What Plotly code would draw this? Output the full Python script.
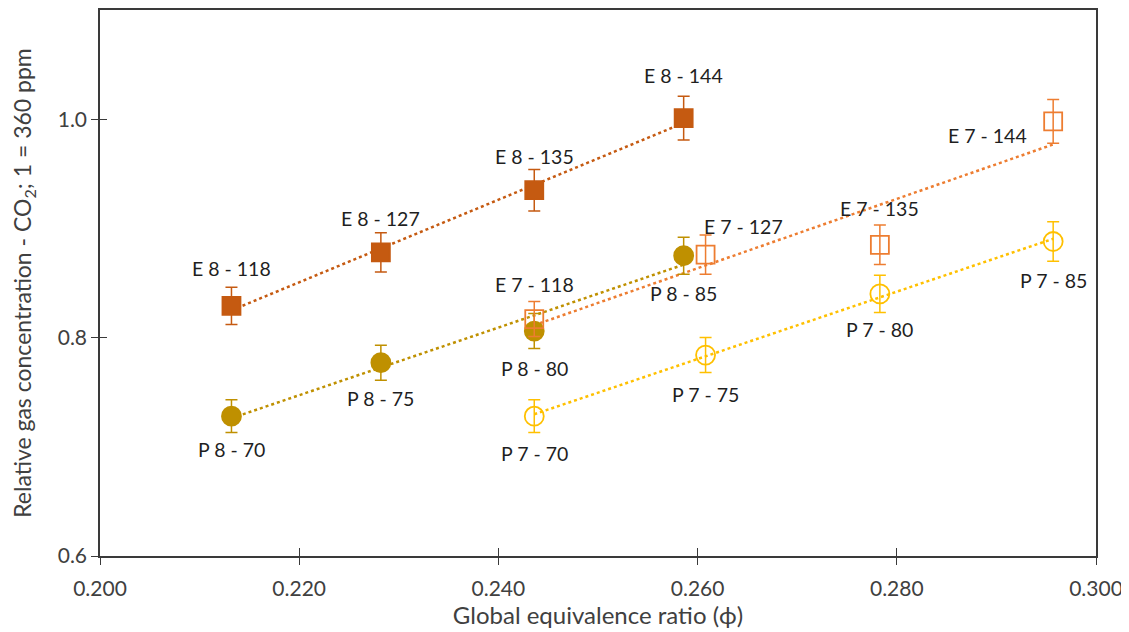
import numpy as np
import plotly.graph_objects as go

# ---- data ----
x_phi8 = [0.2132, 0.2282, 0.2436, 0.2586]
x_phi7 = [0.2436, 0.2608, 0.2783, 0.2957]

e8_y = [0.829, 0.878, 0.935, 1.001]
e8_err = [0.017, 0.018, 0.019, 0.020]
e8_labels = ["E 8 - 118", "E 8 - 127", "E 8 - 135", "E 8 - 144"]

p8_y = [0.728, 0.777, 0.806, 0.875]
p8_err = [0.015, 0.016, 0.016, 0.017]
p8_labels = ["P 8 - 70", "P 8 - 75", "P 8 - 80", "P 8 - 85"]

e7_y = [0.817, 0.876, 0.885, 0.998]
e7_err = [0.016, 0.018, 0.018, 0.020]
e7_labels = ["E 7 - 118", "E 7 - 127", "E 7 - 135", "E 7 - 144"]

p7_y = [0.728, 0.784, 0.840, 0.888]
p7_err = [0.015, 0.016, 0.017, 0.018]
p7_labels = ["P 7 - 70", "P 7 - 75", "P 7 - 80", "P 7 - 85"]

# label pixel offsets (dx, dy) relative to points (dy positive = down)
e8_off = [(0, -37), (0, -34), (0, -34), (0, -43)]
p8_off = [(0, 33), (0, 36), (0, 37), (0, 38)]
e7_off = [(0, -35), (38, -28), (0, -36), (-66, 14)]
p7_off = [(0, 37), (0, 39), (0, 36), (0, 39)]

C_E8 = "#C55A11"
C_P8 = "#BF9000"
C_E7 = "#ED7D31"
C_P7 = "#FFC000"

FONT = "Lato"
TXT = "#1f1f1f"
AX = "#404040"
LINE = "#3a3a3a"

series = [
    (x_phi8, e8_y, e8_err, e8_labels, e8_off, C_E8, "square"),
    (x_phi8, p8_y, p8_err, p8_labels, p8_off, C_P8, "circle"),
    (x_phi7, e7_y, e7_err, e7_labels, e7_off, C_E7, "square-open"),
    (x_phi7, p7_y, p7_err, p7_labels, p7_off, C_P7, "circle-open"),
]

fig = go.Figure()

# trendlines (linear fits)
for xs, ys, err, labs, offs, col, sym in series:
    xa = np.array(xs)
    k, b = np.polyfit(xa, np.array(ys), 1)
    xl = np.array([xa.min(), xa.max()])
    fig.add_trace(go.Scatter(x=xl, y=k * xl + b, mode="lines",
                             line=dict(color=col, width=2.5, dash="dot"),
                             showlegend=False, hoverinfo="skip"))

for xs, ys, err, labs, offs, col, sym in series:
    fig.add_trace(go.Scatter(
        x=xs, y=ys, mode="markers",
        marker=dict(symbol=sym, size=18 if "square" in sym else 19, color=col,
                    line=dict(color=col, width=1.8)),
        error_y=dict(type="data", array=err, color=col, thickness=1.5, width=6),
        showlegend=False))
    for xv, yv, lab, (dx, dy) in zip(xs, ys, labs, offs):
        fig.add_annotation(x=xv, y=yv, text=lab, showarrow=False,
                           xshift=dx, yshift=-dy,
                           font=dict(family=FONT, size=19.5, color=TXT))

# invisible trace for overlay axes (inside half of crossing ticks)
fig.add_trace(go.Scatter(x=[None], y=[None], xaxis="x2", yaxis="y2",
                         showlegend=False, hoverinfo="skip"))

fig.update_layout(
    width=1129, height=632,
    margin=dict(l=92, r=41, t=0, b=84),
    paper_bgcolor="white", plot_bgcolor="white",
    font=dict(family=FONT, size=20, color=AX),
    xaxis=dict(range=[0.2, 0.3], dtick=0.02, tick0=0.2, tickformat=".3f",
               showgrid=False, zeroline=False,
               showline=True, linecolor=LINE, linewidth=1.5, mirror=True,
               ticks="outside", ticklen=7, tickcolor=LINE, tickwidth=1.2,
               ticklabelstandoff=6,
               tickfont=dict(family=FONT, size=21, color=AX),
               title=dict(text="Global equivalence ratio (ϕ)",
                          font=dict(family=FONT, size=24, color=AX), standoff=2)),
    yaxis=dict(range=[0.6, 1.1], dtick=0.2, tick0=0.6, tickformat=".1f",
               showgrid=False, zeroline=False,
               showline=True, linecolor=LINE, linewidth=1.5, mirror=True,
               ticks="outside", ticklen=7, tickcolor=LINE, tickwidth=1.2,
               tickfont=dict(family=FONT, size=21, color=AX),
               title=dict(text="Relative gas concentration - CO<sub>2</sub>; 1 = 360 ppm",
                          font=dict(family=FONT, size=23, color=AX), standoff=22)),
    xaxis2=dict(overlaying="x", anchor="y", side="bottom", range=[0.2, 0.3],
                dtick=0.02, tick0=0.2, ticks="inside", ticklen=8,
                tickcolor=LINE, tickwidth=1.2, showticklabels=False,
                showgrid=False, zeroline=False, showline=False),
    yaxis2=dict(overlaying="y", anchor="x", side="left", range=[0.6, 1.1],
                dtick=0.2, tick0=0.6, ticks="inside", ticklen=7,
                tickcolor=LINE, tickwidth=1.2, showticklabels=False,
                showgrid=False, zeroline=False, showline=False),
)

fig.write_html("out.html")
